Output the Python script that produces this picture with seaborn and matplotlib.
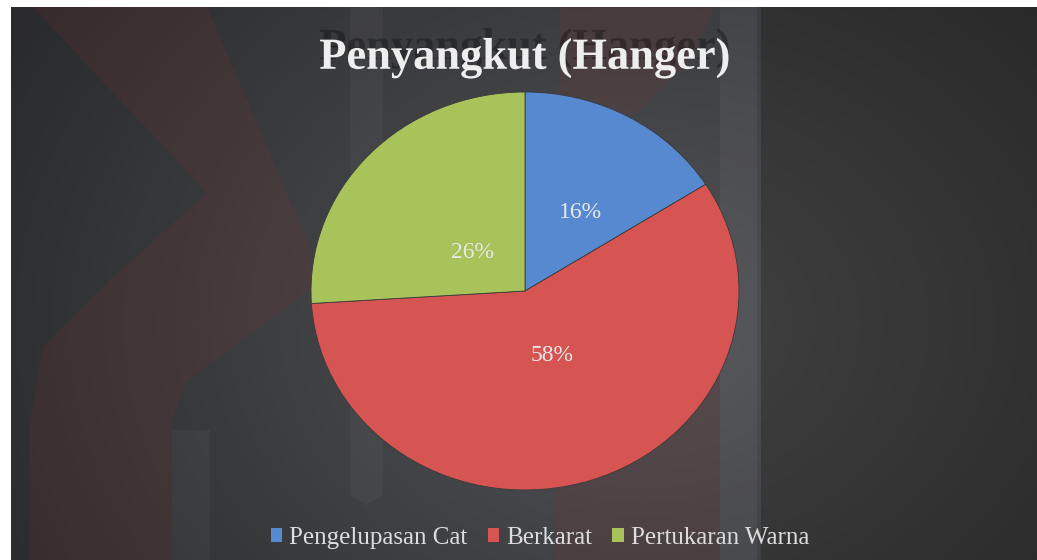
import numpy as np
import matplotlib
matplotlib.use("Agg")
import matplotlib.pyplot as plt
import matplotlib.patheffects as pe
from matplotlib.patches import Polygon, Patch
import seaborn as sns

# data
labels = ["Pengelupasan Cat", "Berkarat", "Pertukaran Warna"]
values = [16, 58, 26]
colors = ["#5689cf", "#d65451", "#a9c35b"]
title = "Penyangkut (Hanger)"

sns.set_theme(style="dark")
plt.rcParams["font.family"] = ["Liberation Serif", "DejaVu Serif"]

W, H = 1037, 560
fig = plt.figure(figsize=(W / 100, H / 100), dpi=100, facecolor="white")

# background panel in pixel coordinates
bg = fig.add_axes([0, 0, 1, 1])
bg.set_xlim(0, W)
bg.set_ylim(H, 0)
bg.axis("off")

yy, xx = np.mgrid[0:H, 0:W]
d = np.sqrt((xx - 640) ** 2 + ((yy - 320) / 0.8) ** 2)
v = np.clip(0x52 - d * 0.055, 0x2a, 0x52) / 255.0
v = np.where(xx > 757, v * 0.8, v)
blue = np.where(xx > 757, v, v * 1.06)
img = np.clip(np.dstack([v, v * 1.02, blue]), 0, 1)
bg.imshow(img, extent=(11, W, H, 7), aspect="auto", zorder=0)

# faint watermark shapes
wm_red = [(33, 7), (207, 7), (311, 250), (311, 290), (187, 380), (172, 420),
          (172, 560), (30, 560), (30, 420), (43, 347), (110, 280), (207, 193)]
wm_red2 = [(560, 7), (715, 7), (690, 60), (640, 110), (560, 140)]
wm_red3 = [(555, 450), (610, 400), (720, 320), (720, 560), (555, 560)]
for poly in (wm_red, wm_red2, wm_red3):
    bg.add_patch(Polygon(poly, closed=True, facecolor="#8a3030", alpha=0.15,
                         edgecolor="none", zorder=1))
bg.add_patch(Polygon([(350, 7), (383, 7), (383, 495), (366, 505), (350, 495)],
                     facecolor="white", alpha=0.035, edgecolor="none", zorder=1))
bg.add_patch(Polygon([(720, 7), (757, 7), (757, 560), (720, 560)],
                     facecolor="white", alpha=0.045, edgecolor="none", zorder=1))
bg.add_patch(Polygon([(172, 430), (210, 430), (210, 560), (172, 560)],
                     facecolor="white", alpha=0.03, edgecolor="none", zorder=1))

# pie
ax = fig.add_axes([311 / W, 1 - 490 / H, 428 / W, 398 / H])
ax.set_facecolor("none")
pct_d = 0.45
wedges, texts, autotexts = ax.pie(
    values, colors=colors, startangle=90, counterclock=False,
    autopct="%1.0f%%", pctdistance=pct_d,
    wedgeprops=dict(edgecolor="#3a3a3a", linewidth=0.6),
    textprops=dict(color="#e8e8e8", fontsize=17),
)
# per-slice label distance from centre (blue, red, green), as Excel places them
label_r = [0.45, 0.34, 0.28]
for t, r in zip(autotexts, label_r):
    x, y = t.get_position()
    s = r / pct_d
    t.set_position((x * s * 1.2, y * s))
ax.set_aspect("auto")
ax.set_xlim(-1, 1)
ax.set_ylim(-1, 1)
ax.axis("off")

fig.text(525 / W, 1 - 58 / H, title, ha="center", va="center",
         fontsize=32, fontweight="bold", color="#eeeeee",
         path_effects=[pe.withSimplePatchShadow(offset=(0, 7), shadow_rgbFace="black", alpha=0.3)])

handles = [Patch(facecolor=c, edgecolor="none") for c in colors]
leg = fig.legend(handles, labels, loc="center", ncol=3,
                 bbox_to_anchor=(540 / W, 1 - 538 / H), frameon=False,
                 fontsize=18, handlelength=0.45, handleheight=0.5,
                 handletextpad=0.3, columnspacing=0.8)
for t in leg.get_texts():
    t.set_color("#dddddd")

fig.savefig("out.png", dpi=100, facecolor="white")
